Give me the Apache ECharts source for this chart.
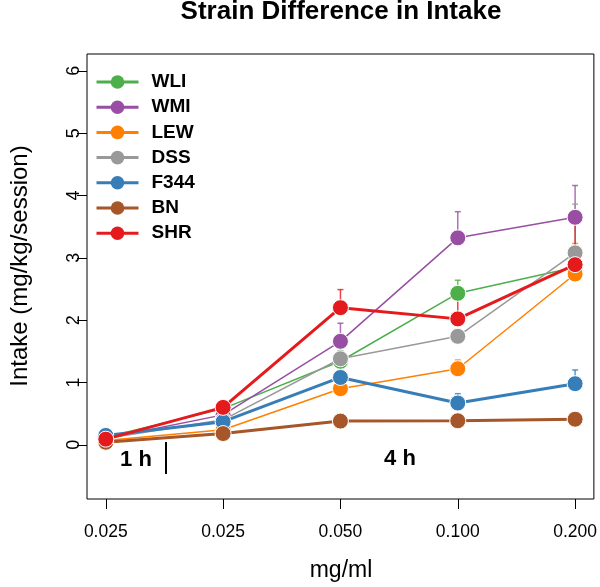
<!DOCTYPE html>
<html>
<head>
<meta charset="utf-8">
<script src="https://cdn.jsdelivr.net/npm/echarts@6/dist/echarts.min.js"></script>
<style>
html,body{margin:0;padding:0;background:#fff;}
#chart{width:600px;height:587px;}
</style>
</head>
<body>
<div id="chart"></div>
<script>
// ---- data ----
const xLabels = ['0.025', '0.025', '0.050', '0.100', '0.200'];
const xPos = [1, 2, 3, 4, 5];
const yTicks = [0, 1, 2, 3, 4, 5, 6];
const strains = ['WLI', 'WMI', 'LEW', 'DSS', 'F344', 'BN', 'SHR'];
const colors = ['#4DAF4A', '#984EA3', '#FF7F00', '#999999', '#377EB8', '#A65628', '#E41A1C'];
const thick = [false, false, false, false, true, true, true];

const WLI  = [0.12, 0.58, 1.34, 2.43, 2.85];
const WMI  = [0.10, 0.48, 1.66, 3.32, 3.65];
const LEW  = [0.07, 0.24, 0.90, 1.22, 2.74];
const DSS  = [0.10, 0.40, 1.38, 1.74, 3.08];
const F344 = [0.15, 0.37, 1.08, 0.67, 0.98];
const BN   = [0.04, 0.18, 0.38, 0.385, 0.41];
const SHR  = [0.09, 0.60, 2.20, 2.02, 2.89];

// upper ends of the error bars (null = not visible)
const WLI_err  = [null, null, 1.51, 2.64, 3.00];
const WMI_err  = [null, null, 1.95, 3.74, 4.16];
const LEW_err  = [null, null, null, 1.36, 3.23];
const DSS_err  = [null, null, 1.68, null, 3.86];
const F344_err = [null, null, null, 0.82, 1.20];
const BN_err   = [null, null, null, null, null];
const SHR_err  = [null, null, 2.49, 2.50, 3.69];

const values = [WLI, WMI, LEW, DSS, F344, BN, SHR];
const errs = [WLI_err, WMI_err, LEW_err, DSS_err, F344_err, BN_err, SHR_err];

const FONT = 'Liberation Sans, Arial, Helvetica, sans-serif';

const series = [];
strains.forEach((name, i) => {
  const errData = [];
  xPos.forEach((x, j) => { if (errs[i][j] != null) errData.push([x, values[i][j], errs[i][j]]); });
  series.push({
    type: 'custom',
    name: name + ' err',
    z: 1,
    silent: true,
    data: errData,
    renderItem: function (params, api) {
      const p0 = api.coord([api.value(0), api.value(1)]);
      const p1 = api.coord([api.value(0), api.value(2)]);
      return {
        type: 'group',
        children: [
          { type: 'line', shape: { x1: p0[0], y1: p0[1], x2: p1[0], y2: p1[1] }, style: { stroke: colors[i], lineWidth: 1.5, opacity: 0.8 } },
          { type: 'line', shape: { x1: p1[0] - 3, y1: p1[1], x2: p1[0] + 3, y2: p1[1] }, style: { stroke: colors[i], lineWidth: 1.5, opacity: 0.8 } }
        ]
      };
    }
  });
});
strains.forEach((name, i) => {
  series.push({
    type: 'line',
    name: name,
    z: 3 + i,
    data: xPos.map((x, j) => [x, values[i][j]]),
    symbol: 'circle',
    symbolSize: 16,
    showSymbol: true,
    animation: false,
    lineStyle: { color: colors[i], width: thick[i] ? 3 : 1.5 },
    itemStyle: { color: colors[i], borderColor: '#ffffff', borderWidth: 1 },
    emphasis: { disabled: true }
  });
});

const chart = echarts.init(document.getElementById('chart'), null, { renderer: 'canvas' });
chart.setOption({
  animation: false,
  backgroundColor: '#ffffff',
  grid: { left: 87, right: 4, top: 54, bottom: 88, show: true, borderColor: '#000', borderWidth: 1, backgroundColor: 'transparent' },
  legend: {
    data: strains,
    orient: 'vertical',
    left: 90,
    top: 67.5,
    itemWidth: 42,
    itemHeight: 17,
    itemGap: 6.2,
    lineStyle: { width: 3 },
    itemStyle: { borderWidth: 0 },
    textStyle: { fontFamily: FONT, fontSize: 19, fontWeight: 'bold', color: '#000', padding: [0, 0, 0, 8] }
  },
  xAxis: {
    type: 'value',
    min: 0.84,
    max: 5.16,
    axisLine: { show: false, onZero: false },
    splitLine: { show: false },
    axisTick: { show: true, length: 10, customValues: xPos, lineStyle: { color: '#000' } },
    axisLabel: { customValues: xPos, formatter: v => xLabels[Math.round(v) - 1], fontFamily: FONT, fontSize: 17.5, color: '#000', margin: 24 }
  },
  yAxis: {
    type: 'value',
    min: -0.87,
    max: 6.27,
    axisLine: { show: false, onZero: false },
    splitLine: { show: false },
    axisTick: { show: true, length: 10, customValues: yTicks, lineStyle: { color: '#000' } },
    axisLabel: { customValues: yTicks, rotate: 90, fontFamily: FONT, fontSize: 18, color: '#000', margin: 4 }
  },
  graphic: [
    { type: 'text', x: 341, y: 12, style: { text: 'Strain Difference in Intake', font: 'bold 26px ' + FONT, fill: '#000', textAlign: 'center', textVerticalAlign: 'middle' } },
    { type: 'text', x: 341, y: 571, style: { text: 'mg/ml', font: '23px ' + FONT, fill: '#000', textAlign: 'center', textVerticalAlign: 'middle' } },
    { type: 'text', x: 20, y: 266, rotation: Math.PI / 2, style: { text: 'Intake (mg/kg/session)', font: '24px ' + FONT, fill: '#000', textAlign: 'center', textVerticalAlign: 'middle' } },
    { type: 'text', x: 136, y: 460, style: { text: '1 h', font: 'bold 22px ' + FONT, fill: '#000', textAlign: 'center', textVerticalAlign: 'middle' } },
    { type: 'line', shape: { x1: 166, y1: 442, x2: 166, y2: 474 }, style: { stroke: '#000', lineWidth: 2 } },
    { type: 'text', x: 400, y: 459, style: { text: '4 h', font: 'bold 22px ' + FONT, fill: '#000', textAlign: 'center', textVerticalAlign: 'middle' } }
  ],
  series: series
});
</script>
</body>
</html>
